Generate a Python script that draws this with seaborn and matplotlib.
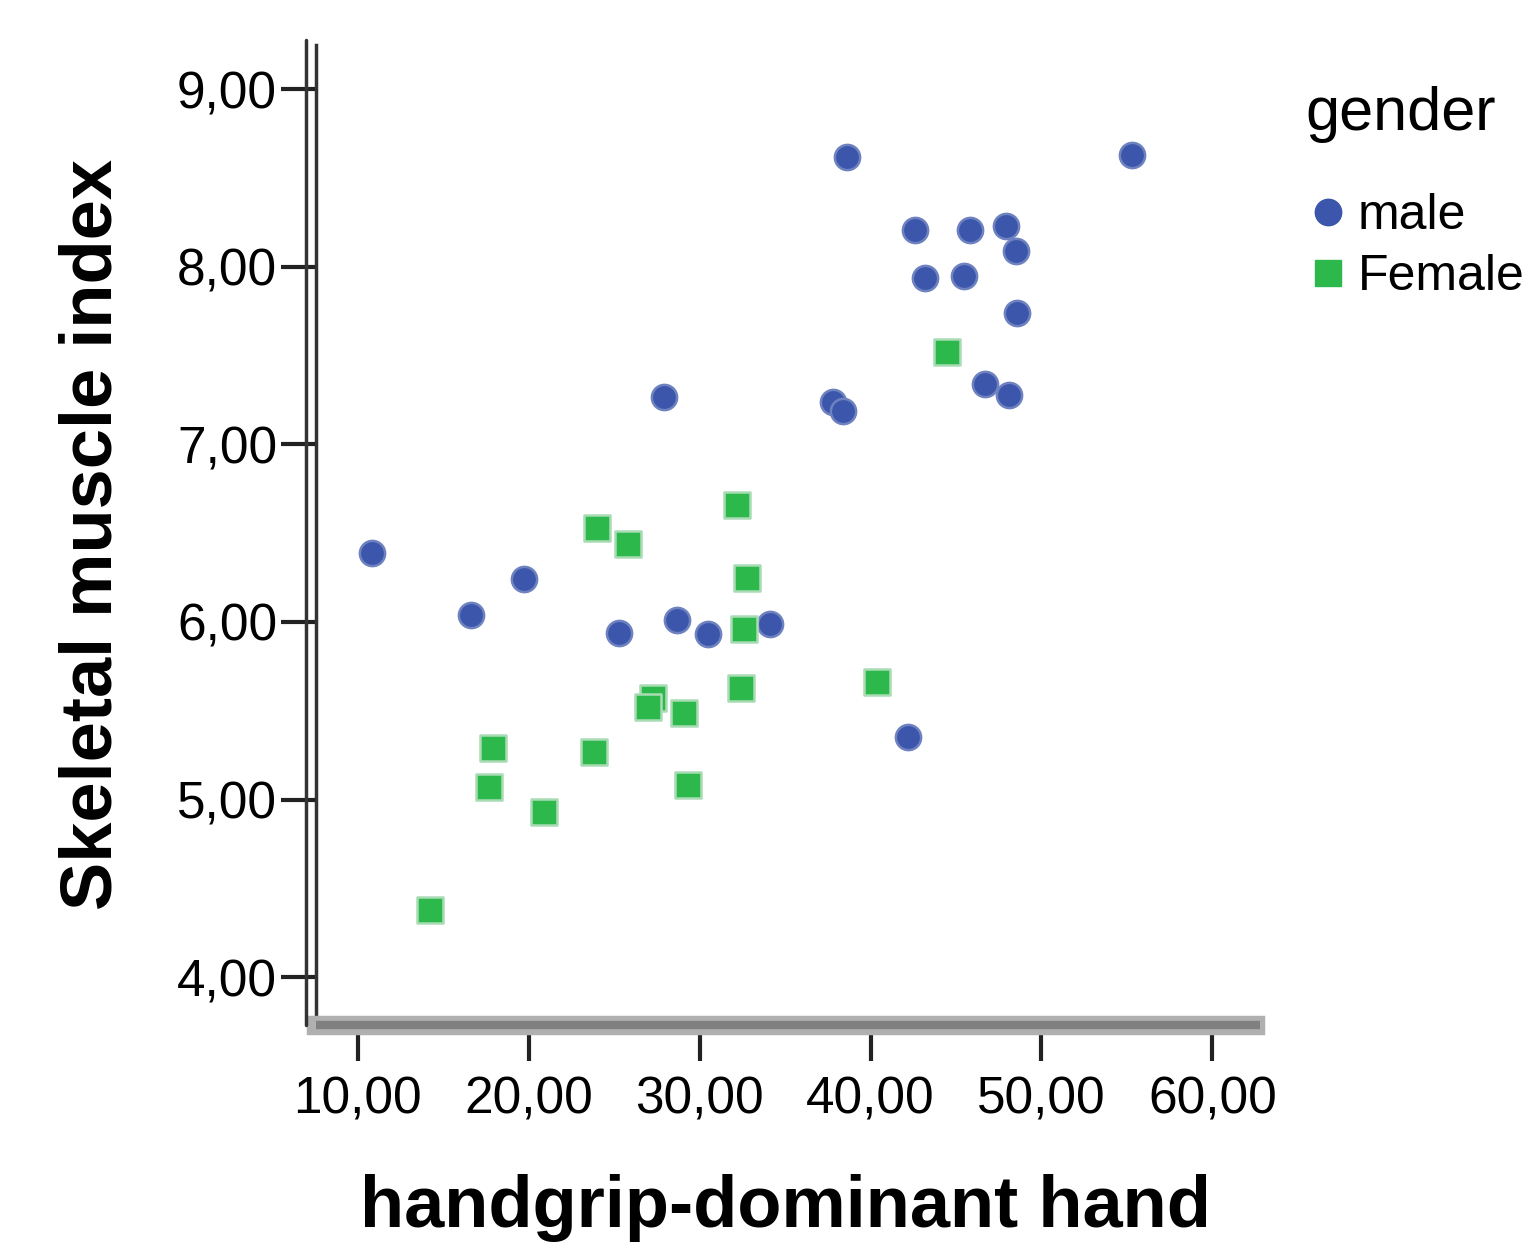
import matplotlib
matplotlib.use("Agg")
import matplotlib.pyplot as plt
import seaborn as sns
import pandas as pd
from matplotlib.lines import Line2D

# ---- data ----
male_grip = [38.6, 55.3, 42.6, 45.8, 47.9, 48.5, 43.2, 45.5, 48.6, 46.7, 48.1,
             27.9, 37.8, 38.4, 10.8, 16.6, 19.7, 25.3, 28.7, 30.5, 34.1, 42.2]
male_smi = [8.62, 8.63, 8.21, 8.21, 8.23, 8.09, 7.94, 7.95, 7.74, 7.34, 7.28,
            7.27, 7.24, 7.19, 6.39, 6.04, 6.24, 5.94, 6.01, 5.93, 5.99, 5.35]
female_grip = [44.5, 32.2, 24.0, 25.8, 32.8, 32.6, 32.4, 40.4, 27.3, 27.0,
               29.1, 17.9, 17.7, 23.8, 20.9, 29.3, 14.2]
female_smi = [7.52, 6.66, 6.53, 6.44, 6.25, 5.96, 5.63, 5.66, 5.57, 5.52,
              5.49, 5.29, 5.07, 5.27, 4.93, 5.08, 4.38]
genders = ["male", "Female"]
x_ticks = [10, 20, 30, 40, 50, 60]
y_ticks = [4, 5, 6, 7, 8, 9]
x_tick_labels = ["10,00", "20,00", "30,00", "40,00", "50,00", "60,00"]
y_tick_labels = ["4,00", "5,00", "6,00", "7,00", "8,00", "9,00"]

df = pd.DataFrame({
    "grip": male_grip + female_grip,
    "smi": male_smi + female_smi,
    "gender": [genders[0]] * len(male_grip) + [genders[1]] * len(female_grip),
})

sns.set_theme(style="white")
plt.rcParams["font.family"] = ["Liberation Sans", "DejaVu Sans"]
plt.rcParams["text.color"] = "black"
plt.rcParams["axes.labelcolor"] = "black"
plt.rcParams["xtick.color"] = "black"
plt.rcParams["ytick.color"] = "black"

BLUE = "#3B56AA"
GREEN = "#2DB84B"
palette = {"male": BLUE, "Female": GREEN}
markers = {"male": "o", "Female": "s"}
edges = {"male": "#6f82c0", "Female": "#a9dcb5"}

fig = plt.figure(figsize=(15.32, 12.44), dpi=100)
ax = fig.add_axes([316 / 1532, 1 - 1025 / 1244, (1255 - 316) / 1532, (1025 - 45) / 1244])

for g in genders:
    sub = df[df["gender"] == g]
    sns.scatterplot(data=sub, x="grip", y="smi", color=palette[g], marker=markers[g],
                    s=330, edgecolor=edges[g], linewidth=1.8, ax=ax, legend=False, zorder=3)

ax.set_xlim(7.55, 62.5)
ax.set_ylim(3.73, 9.25)
ax.set_xticks(x_ticks)
ax.set_xticklabels(x_tick_labels)
ax.set_yticks(y_ticks)
ax.set_yticklabels(y_tick_labels)

ax.spines["top"].set_visible(False)
ax.spines["right"].set_visible(False)
ax.spines["left"].set_color("#333333")
ax.spines["left"].set_linewidth(2.5)
ax.spines["bottom"].set_color("#b0b0b0")
ax.spines["bottom"].set_linewidth(14)
# extra axis lines (SPSS-style double line)
ax.plot([-10 / 939, -10 / 939], [0.0, 1.005], transform=ax.transAxes, color="#333333",
        lw=2.5, clip_on=False, zorder=4)
ax.plot([0, 1.005], [0, 0], transform=ax.transAxes, color="#808080", lw=6,
        clip_on=False, zorder=4, solid_capstyle="butt")

ax.tick_params(axis="y", direction="out", length=25, width=3, color="#222222",
               labelsize=37, pad=3, left=True)
ax.tick_params(axis="x", direction="out", length=26, width=3, color="#222222",
               labelsize=37, pad=10, bottom=True)

ax.set_xlabel("handgrip-dominant hand", fontsize=52, fontweight="bold", labelpad=36)
ax.set_ylabel("Skeletal muscle index", fontsize=52, fontweight="bold", labelpad=36)

handles = [Line2D([0], [0], marker=markers[g], color="none", markerfacecolor=palette[g],
                  markeredgecolor=palette[g], markersize=19, linestyle="none") for g in genders]
leg = fig.legend(handles, genders, title="gender", loc="upper left",
                 bbox_to_anchor=(1305 / 1532, 1 - 86 / 1244), frameon=False,
                 fontsize=36, title_fontsize=44, handletextpad=0.15, labelspacing=0.3,
                 borderaxespad=0, borderpad=0, handlelength=0.9)
leg._legend_box.align = "left"
leg._legend_box.sep = 36

fig.savefig("out.png", dpi=100, facecolor="white")
